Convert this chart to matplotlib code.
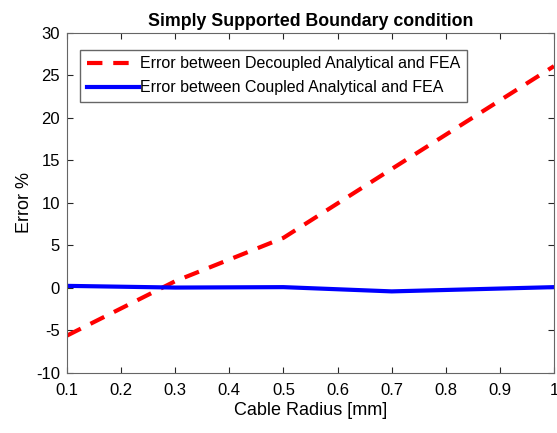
import matplotlib
matplotlib.use('Agg')
import matplotlib.pyplot as plt

# cable radius [mm]
radius = [0.1, 0.3, 0.5, 0.7, 1.0]
# error % (decoupled / coupled analytical vs FEA)
err_decoupled = [-5.6, 0.8, 5.9, 14.0, 26.1]
err_coupled = [0.25, 0.05, 0.1, -0.4, 0.1]

plt.rcParams['font.family'] = ['Liberation Sans', 'DejaVu Sans']
plt.rcParams['axes.unicode_minus'] = False

fig = plt.figure(figsize=(5.57, 4.33), dpi=100)
ax = fig.add_axes([0.1203, 0.1386, 0.8743, 0.7852])

ax.plot(radius, err_decoupled, '--', color='red', linewidth=3, dashes=(3.7, 2.6),
        label='Error between Decoupled Analytical and FEA')
ax.plot(radius, err_coupled, '-', color='blue', linewidth=3,
        label='Error between Coupled Analytical and FEA')

ax.set_xlim(0.1, 1.0)
ax.set_ylim(-10, 30)
ax.set_xticks([0.1, 0.2, 0.3, 0.4, 0.5, 0.6, 0.7, 0.8, 0.9, 1.0])
ax.set_xticklabels(['0.1', '0.2', '0.3', '0.4', '0.5', '0.6', '0.7', '0.8', '0.9', '1'])
ax.set_yticks(range(-10, 31, 5))
ax.tick_params(direction='in', top=True, right=True, labelsize=12, length=4,
               color='0.15', labelcolor='black')
ax.tick_params(axis='x', pad=7)
ax.tick_params(axis='y', pad=5)
for s in ax.spines.values():
    s.set_color('0.4')

ax.set_title('Simply Supported Boundary condition', fontsize=12.8, fontweight='bold', pad=5)
ax.set_xlabel('Cable Radius [mm]', fontsize=13, labelpad=3)
ax.set_ylabel('Error %', fontsize=13, labelpad=2)

leg = ax.legend(loc='upper left', bbox_to_anchor=(0.027, 0.95), fontsize=11.5,
                fancybox=False, framealpha=1, edgecolor='0.4', handlelength=3.3,
                handletextpad=0.05, borderpad=0.4, labelspacing=0.55, borderaxespad=0)
leg.get_frame().set_linewidth(1.0)

fig.savefig('out.png', dpi=100)
